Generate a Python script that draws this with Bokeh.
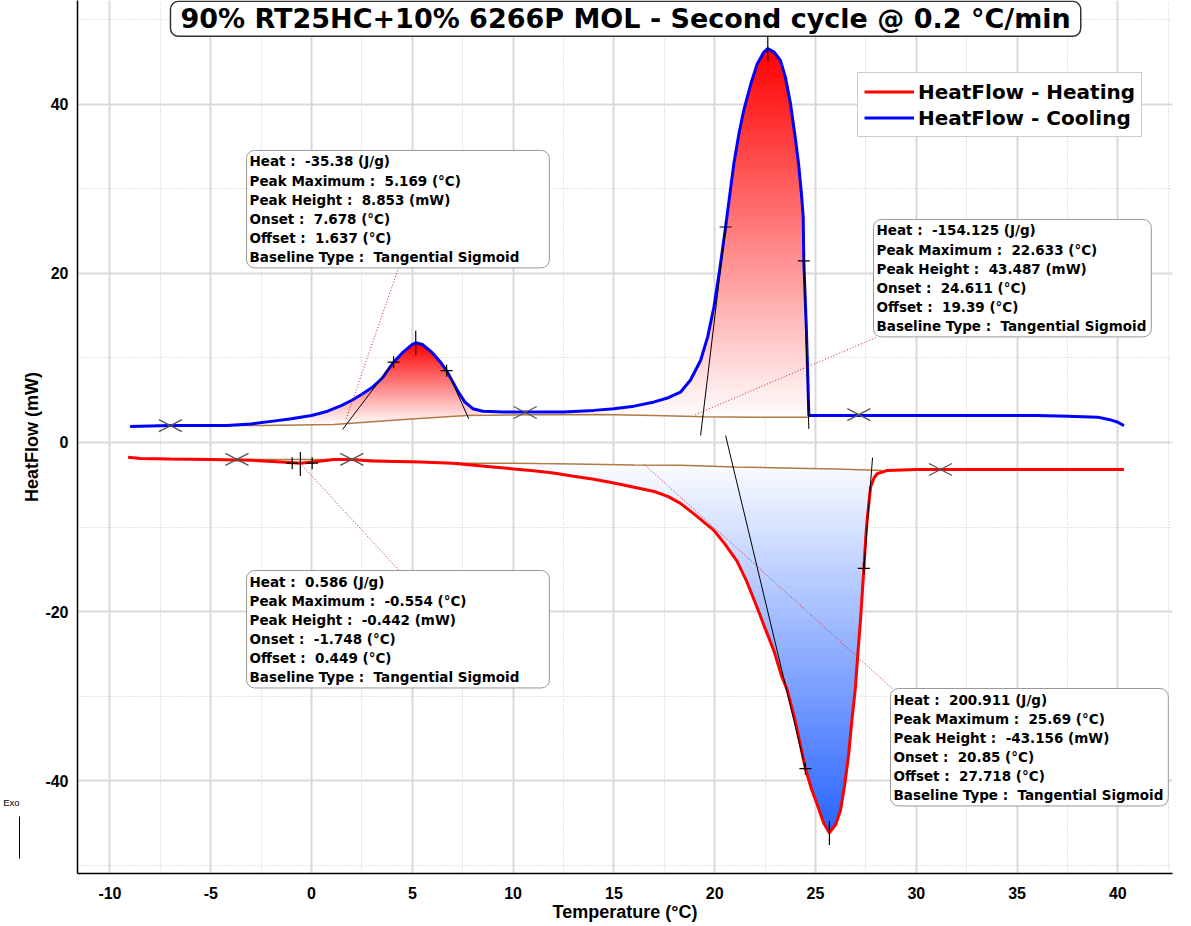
import numpy as np
from bokeh.plotting import figure
from bokeh.models import Range1d, Label, Legend, LegendItem, FixedTicker, LinearAxis
from bokeh.embed import file_html
from bokeh.resources import INLINE

# ---------------- data ----------------
cool_t = [-9.0, -7.0, -5.0, -4.2, -3.0, -2.0, -1.0, 0.0, 0.8, 1.5, 2.0, 2.5, 3.0, 3.5,
          4.07, 4.5, 5.0, 5.17, 5.5, 6.0, 6.4, 6.7, 7.0, 7.3, 7.6, 8.0, 8.5, 9.5, 11.0,
          12.5, 14.0, 15.0, 16.0, 17.0, 17.7, 18.3, 18.8, 19.3, 19.65, 19.96, 20.25,
          20.54, 20.95, 21.2, 21.44, 21.8, 22.11, 22.44, 22.63, 22.95, 23.26, 23.5,
          23.76, 24.0, 24.16, 24.3, 24.39, 24.42, 24.55, 24.6, 24.67, 26.0, 28.0, 30.0,
          33.0, 36.0, 37.5, 39.0, 39.6, 40.0, 40.3]
cool_v = [1.9, 2.0, 2.0, 2.0, 2.2, 2.5, 2.8, 3.2, 3.7, 4.4, 5.0, 5.7, 6.5, 7.6,
          9.5, 10.6, 11.6, 11.8, 11.6, 10.6, 9.5, 8.5, 7.2, 5.9, 4.8, 4.0, 3.7, 3.6, 3.6,
          3.6, 3.8, 4.0, 4.3, 4.8, 5.3, 5.95, 7.4, 9.7, 12.5, 16.0, 20.5,
          25.5, 33.0, 36.5, 39.3, 42.5, 44.8, 46.2, 46.6, 46.2, 45.2, 43.3,
          40.1, 36.0, 33.0, 29.5, 26.7, 21.5, 13.3, 9.3, 3.2, 3.2, 3.2, 3.2,
          3.2, 3.2, 3.1, 3.0, 2.7, 2.4, 2.0]

heat_t = [-9.1, -8.5, -7.0, -5.0, -3.0, -1.5, -0.55, 0.5, 1.1, 2.0, 3.0, 5.4, 7.0, 9.0,
          11.0, 12.0, 13.0, 14.0, 15.0, 16.0, 17.0, 17.7, 18.3, 19.0, 19.96, 20.5, 21.1,
          21.6, 22.1, 22.5, 22.93, 23.3, 23.6, 24.0, 24.5, 24.8, 25.08, 25.4, 25.69, 26.0,
          26.24, 26.45, 26.65, 26.8, 26.98, 27.1, 27.23, 27.4, 27.5, 27.56, 27.73, 27.9,
          28.06, 28.56, 30.0, 33.0, 36.0, 40.3]
heat_v = [-1.75, -1.9, -1.95, -2.0, -2.1, -2.3, -2.45, -2.2, -2.0, -2.0, -2.2, -2.3, -2.45, -2.9,
          -3.35, -3.6, -4.0, -4.35, -4.8, -5.3, -5.8, -6.4, -7.2, -8.5, -10.4, -12.0, -14.0,
          -16.5, -19.5, -22.0, -24.6, -27.5, -29.3, -33.0, -38.6, -41.0, -42.8, -45.0, -46.2, -45.2,
          -43.55, -40.5, -36.8, -33.0, -29.0, -25.0, -21.1, -14.9, -11.0, -9.2, -5.3, -4.2,
          -3.7, -3.3, -3.2, -3.2, -3.2, -3.2]

# sigmoid baselines
cool_base_t = [-4.2, -2.5, 1.1, 4.4, 7.7, 11.0, 14.3, 17.0, 19.5, 22.0, 24.7]
cool_base_v = [2.0, 2.0, 2.13, 2.68, 3.2, 3.27, 3.3, 3.2, 3.05, 3.0, 3.0]
heat_base_t = [-3.7, 2.1, 7.5, 10.0, 11.2, 13.0, 16.0, 18.3, 21.0, 24.0, 26.0, 28.3]
heat_base_v = [-2.0, -2.0, -2.45, -2.45, -2.5, -2.55, -2.65, -2.7, -2.9, -3.05, -3.15, -3.3]

# integration limits (X marks)
limit_t = [-7.0, 10.6, 27.15, -3.7, 2.0, 31.2]
limit_v = [2.0, 3.55, 3.3, -2.0, -2.0, -3.2]

# inflection / tangent points (+ marks)
infl_t = [4.07, 6.7, 20.54, 24.42, -0.96, 0.03, 24.5, 27.4]
infl_v = [9.5, 8.5, 25.5, 21.5, -2.45, -2.45, -38.6, -14.9]

# peak maxima
peak_t = [5.169, 22.633, 25.69, -0.554]
peak_v = [11.8, 46.6, -46.2, -2.55]

# tangent lines (onset / offset construction)
tan_t0 = [1.54, 6.73, 19.30, 24.42, 20.54, 27.83]
tan_v0 = [1.55, 8.5, 0.83, 21.5, 0.83, -1.8]
tan_t1 = [4.10, 7.80, 20.54, 24.67, 24.50, 27.40]
tan_v1 = [9.6, 2.8, 25.5, 1.6, -38.6, -14.9]

# leader lines from result boxes
lead_t0 = [4.32, 27.98, 4.32, 28.80]
lead_v0 = [20.7, 12.4, -15.1, -29.1]
lead_t1 = [1.69, 18.95, -0.55, 16.46]
lead_v1 = [2.6, 3.2, -2.5, -2.5]

S = "\u00a0"
box_texts = [
    ["Heat :" + S + " -35.38 (J/g)", "Peak Maximum :" + S + " 5.169 (°C)", "Peak Height :" + S + " 8.853 (mW)",
     "Onset :" + S + " 7.678 (°C)", "Offset :" + S + " 1.637 (°C)", "Baseline Type :" + S + " Tangential Sigmoid"],
    ["Heat :" + S + " -154.125 (J/g)", "Peak Maximum :" + S + " 22.633 (°C)", "Peak Height :" + S + " 43.487 (mW)",
     "Onset :" + S + " 24.611 (°C)", "Offset :" + S + " 19.39 (°C)", "Baseline Type :" + S + " Tangential Sigmoid"],
    ["Heat :" + S + " 0.586 (J/g)", "Peak Maximum :" + S + " -0.554 (°C)", "Peak Height :" + S + " -0.442 (mW)",
     "Onset :" + S + " -1.748 (°C)", "Offset :" + S + " 0.449 (°C)", "Baseline Type :" + S + " Tangential Sigmoid"],
    ["Heat :" + S + " 200.911 (J/g)", "Peak Maximum :" + S + " 25.69 (°C)", "Peak Height :" + S + " -43.156 (mW)",
     "Onset :" + S + " 20.85 (°C)", "Offset :" + S + " 27.718 (°C)", "Baseline Type :" + S + " Tangential Sigmoid"],
]
box_t = [-3.224, 27.877, -3.224, 28.72]
box_v = [34.56, 26.39, -15.15, -29.11]
box_pad_right = [30, 5, 30, 5]

title_text = "90% RT25HC+10% 6266P MOL - Second cycle @ 0.2 °C/min"

x_ticks = [-10, -5, 0, 5, 10, 15, 20, 25, 30, 35, 40]
x_tick_labels = ["-10", "-5", "0", "5", "10", "15", "20", "25", "30", "35", "40"]
x_minor = [-7.5, -2.5, 2.5, 7.5, 12.5, 17.5, 22.5, 27.5, 32.5, 37.5, 42.5]
y_ticks = [-40, -20, 0, 20, 40]
y_tick_labels = ["-40", "-20", "0", "20", "40"]
y_minor = [-50, -30, -10, 10, 30, 50]

# ---------------- figure ----------------
p = figure(width=1191, height=926, output_backend="svg", toolbar_location=None,
           x_range=Range1d(-11.61, 42.71), y_range=Range1d(-51.0, 52.3),
           min_border_left=77, min_border_right=19, min_border_top=0, min_border_bottom=53)
p.outline_line_color = None
p.background_fill_color = "white"

p.xaxis.ticker = FixedTicker(ticks=x_ticks, minor_ticks=x_minor)
p.yaxis.ticker = FixedTicker(ticks=y_ticks, minor_ticks=y_minor)
p.xaxis.major_label_overrides = dict(zip(x_ticks, x_tick_labels))
p.yaxis.major_label_overrides = dict(zip(y_ticks, y_tick_labels))
for ax in (p.xaxis[0], p.yaxis[0]):
    ax.axis_line_color = "black"
    ax.axis_line_width = 1.5
    ax.major_tick_line_color = None
    ax.minor_tick_line_color = None
    ax.major_tick_out = 0
    ax.major_tick_in = 0
    ax.minor_tick_out = 0
    ax.minor_tick_in = 0
    ax.major_label_text_font = "Liberation Sans"
    ax.major_label_text_font_style = "bold"
    ax.major_label_text_font_size = "16px"
    ax.major_label_text_color = "black"
    ax.axis_label_text_font = "Liberation Sans"
    ax.axis_label_text_font_style = "bold"
    ax.axis_label_text_font_size = "18px"
    ax.axis_label_text_color = "black"
p.xaxis.axis_label = "Temperature (°C)"
p.yaxis.axis_label = "HeatFlow (mW)"
p.xaxis.major_label_standoff = 13
p.xaxis.axis_label_standoff = 0
p.yaxis.major_label_standoff = 9
p.yaxis.axis_label_standoff = 0

# outer left guide carrying the "Exo" direction marker
exo_axis = LinearAxis(ticker=FixedTicker(ticks=[-42.6], minor_ticks=[]),
                      major_label_overrides={-42.6: "Exo"}, bounds=(-49.2, -44.2),
                      axis_line_color="black", axis_line_width=1,
                      major_tick_line_color=None, minor_tick_line_color=None,
                      major_tick_out=0, major_tick_in=0, minor_tick_out=0, minor_tick_in=0,
                      major_label_standoff=0, major_label_text_font="Liberation Sans",
                      major_label_text_font_size="9.5px", major_label_text_color="black")
p.add_layout(exo_axis, "left")

for g in (p.xgrid[0], p.ygrid[0]):
    g.grid_line_color = "#d9d9d9"
    g.grid_line_width = 2
    g.minor_grid_line_color = "#c8c8c8"
    g.minor_grid_line_width = 1
    g.minor_grid_line_dash = "1 2"


def red_color(f):
    g = int(round(252 * (1 - f)))
    return "#%02x%02x%02x" % (255, g, g)


def blue_color(f):
    r = int(round(250 - 210 * f))
    g = int(round(252 - 152 * f))
    return "#%02x%02x%02x" % (r, g, 255)


def gradient_fill(ct, cv, bt, bv, t0, t1, lo, hi, n, up=True):
    tt = np.linspace(t0, t1, int(round((t1 - t0) / 0.02)) + 1)
    c = np.interp(tt, ct, cv)
    b = np.interp(tt, bt, bv)
    levels = np.linspace(lo, hi, n + 1)[:-1]
    for k, L in enumerate(levels):
        f = k / (n - 1)
        if up:
            y1 = np.maximum(b, L)
            y2 = np.maximum(c, y1)
            col = red_color(f)
        else:
            y1 = np.minimum(b, L)
            y2 = np.minimum(c, y1)
            col = blue_color(f)
        p.varea(x=tt, y1=y1, y2=y2, fill_color=col, fill_alpha=1.0)


# gradient peak areas
gradient_fill(cool_t, cool_v, cool_base_t, cool_base_v, 0.0, 8.4, 2.0, max(cool_v[:30]), 45, up=True)
gradient_fill(cool_t, cool_v, cool_base_t, cool_base_v, 11.0, 24.7, 3.0, max(cool_v), 130, up=True)
gradient_fill(heat_t, heat_v, heat_base_t, heat_base_v, 7.5, 28.1, -2.45, min(heat_v), 130, up=False)

# baselines
p.line(cool_base_t, cool_base_v, line_color="#b07a45", line_width=1.5)
p.line(heat_base_t, heat_base_v, line_color="#b07a45", line_width=1.5)

# curves
r_heat = p.line(heat_t, heat_v, line_color="#ff0000", line_width=3)
r_cool = p.line(cool_t, cool_v, line_color="#0000ff", line_width=3)

# tangent construction lines
p.segment(x0=tan_t0, y0=tan_v0, x1=tan_t1, y1=tan_v1, line_color="black", line_width=1)

# leader lines
p.segment(x0=lead_t0, y0=lead_v0, x1=lead_t1, y1=lead_v1, line_color="#cc2222",
          line_width=1, line_dash="1 2")

# limit marks (flattened X)
ang = np.radians(27.5)
xs, ys, angs = [], [], []
for t, v in zip(limit_t, limit_v):
    for a in (ang, np.pi - ang, np.pi + ang, 2 * np.pi - ang):
        xs.append(t)
        ys.append(v)
        angs.append(a)
p.ray(x=xs, y=ys, length=13, length_units="screen", angle=angs, line_color="#555555", line_width=1.3)

p.scatter(infl_t, infl_v, marker="cross", size=12, line_color="black", line_width=1.2)
p.scatter(peak_t, peak_v, marker="dash", size=24, angle=np.pi / 2, line_color="black", line_width=1.2)

# result boxes
for txt, bx, by, pr in zip(box_texts, box_t, box_v, box_pad_right):
    p.add_layout(Label(x=bx, y=by, text="\n".join(txt), text_align="left", text_baseline="top",
                       text_font="DejaVu Sans", text_font_style="bold", text_font_size="13.5px",
                       text_line_height=1.193, text_color="black",
                       background_fill_color="white", background_fill_alpha=1.0,
                       border_line_color="#999999", border_line_width=1,
                       padding=dict(left=3, right=pr, top=3, bottom=3), border_radius=8))

# title
p.add_layout(Label(x=15.58, y=52.2, text=title_text, text_align="center", text_baseline="top",
                   text_font="DejaVu Sans", text_font_style="bold", text_font_size="27px",
                   text_color="black", background_fill_color="white", background_fill_alpha=1.0,
                   border_line_color="#333333", border_line_width=1.5,
                   padding=dict(left=10, right=10, top=2, bottom=2), border_radius=8))

legend = Legend(items=[LegendItem(label="HeatFlow - Heating", renderers=[r_heat]),
                       LegendItem(label="HeatFlow - Cooling", renderers=[r_cool])],
                location=(780, 736), label_text_font="DejaVu Sans", label_text_font_style="bold",
                label_text_font_size="20px", label_text_color="black",
                glyph_width=50, glyph_height=25, label_height=25,
                spacing=1, padding=6, margin=0, label_standoff=4,
                border_line_color="#999999", border_line_width=1.5,
                background_fill_color="white", background_fill_alpha=1.0)
p.add_layout(legend)

open("out.html", "w").write(file_html(p, INLINE))
